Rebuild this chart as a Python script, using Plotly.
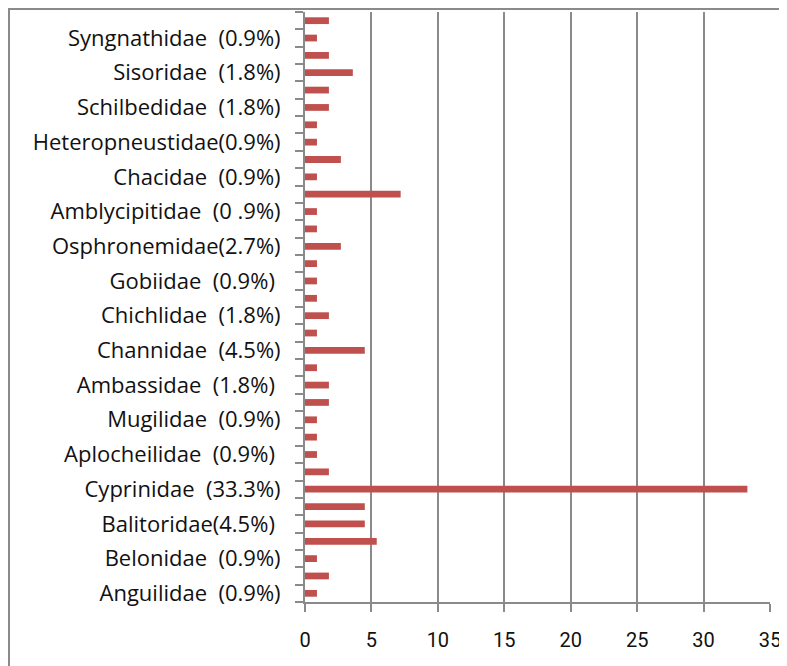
import plotly.graph_objects as go

NB = "\u00a0"
# categories bottom-to-top (34 bars, every other one labelled)
labels = [
    "Anguilidae  (0.9%)", "", "Belonidae  (0.9%)", "", "Balitoridae(4.5%) ", "",
    "Cyprinidae  (33.3%)", "", "Aplocheilidae  (0.9%) ", "", "Mugilidae  (0.9%)", "",
    "Ambassidae  (1.8%) ", "", "Channidae  (4.5%)", "", "Chichlidae  (1.8%)", "",
    "Gobiidae  (0.9%) ", "", "Osphronemidae(2.7%)", "", "Amblycipitidae  (0 .9%)", "",
    "Chacidae  (0.9%)", "", "Heteropneustidae(0.9%)", "", "Schilbedidae  (1.8%)", "",
    "Sisoridae  (1.8%)", "", "Syngnathidae  (0.9%)", "",
]
values = [
    0.9, 1.8, 0.9, 5.4, 4.5, 4.5,
    33.3, 1.8, 0.9, 0.9, 0.9, 1.8,
    1.8, 0.9, 4.5, 0.9, 1.8, 0.9,
    0.9, 0.9, 2.7, 0.9, 0.9, 7.2,
    0.9, 2.7, 0.9, 0.9, 1.8, 1.8,
    3.6, 1.8, 0.9, 1.8,
]
x_ticks = [0, 5, 10, 15, 20, 25, 30, 35]

pos = list(range(len(values)))
lab_pos = [p for p in pos if labels[p]]
lab_txt = [labels[p].replace(" ", NB) for p in lab_pos]

GRAY = "#8a8a8a"
fig = go.Figure(go.Bar(
    x=values, y=pos, orientation="h",
    marker=dict(color="#C0504D", line=dict(width=0)),
))

W, H = 787, 666
L, R, T, B = 297, 25, 4, 72
pw, ph = W - L - R, H - T - B

fig.update_layout(
    width=W, height=H,
    margin=dict(l=L, r=R, t=T, b=B),
    paper_bgcolor="white", plot_bgcolor="white",
    showlegend=False, bargap=0.61,
    font=dict(family="Open Sans, Noto Sans, sans-serif", size=22, color="#111111"),
    xaxis=dict(
        range=[0, 35], tickvals=x_ticks, ticktext=[str(v) for v in x_ticks],
        showgrid=True, gridcolor=GRAY, gridwidth=2,
        showline=True, linecolor=GRAY, linewidth=2,
        ticks="outside", ticklen=8, tickwidth=2, tickcolor=GRAY,
        ticklabelstandoff=11,
        tickfont=dict(family="Roboto, sans-serif", size=20),
        zeroline=False, fixedrange=True,
    ),
    yaxis=dict(
        range=[-0.5, 33.5], tickmode="array", tickvals=lab_pos, ticktext=lab_txt,
        showgrid=False, zeroline=False,
        showline=True, linecolor=GRAY, linewidth=2,
        ticks="outside", ticklen=8, tickcolor="rgba(0,0,0,0)",
        ticklabelstandoff=10,
        minor=dict(tickmode="array", tickvals=[p - 0.5 for p in range(len(values) + 1)],
                   ticks="outside", ticklen=8, tickwidth=2, tickcolor=GRAY, showgrid=False),
        tickfont=dict(size=22),
    ),
)

# outer chart frame (top and left edges visible)
fig.add_shape(type="rect", xref="paper", yref="paper",
              x0=(1 - L) / pw, x1=(W + 20 - L) / pw,
              y0=-(B + 20) / ph, y1=(T + ph - 1) / ph,
              line=dict(color=GRAY, width=2), fillcolor="rgba(0,0,0,0)", layer="below")

fig.write_html("out.html")
